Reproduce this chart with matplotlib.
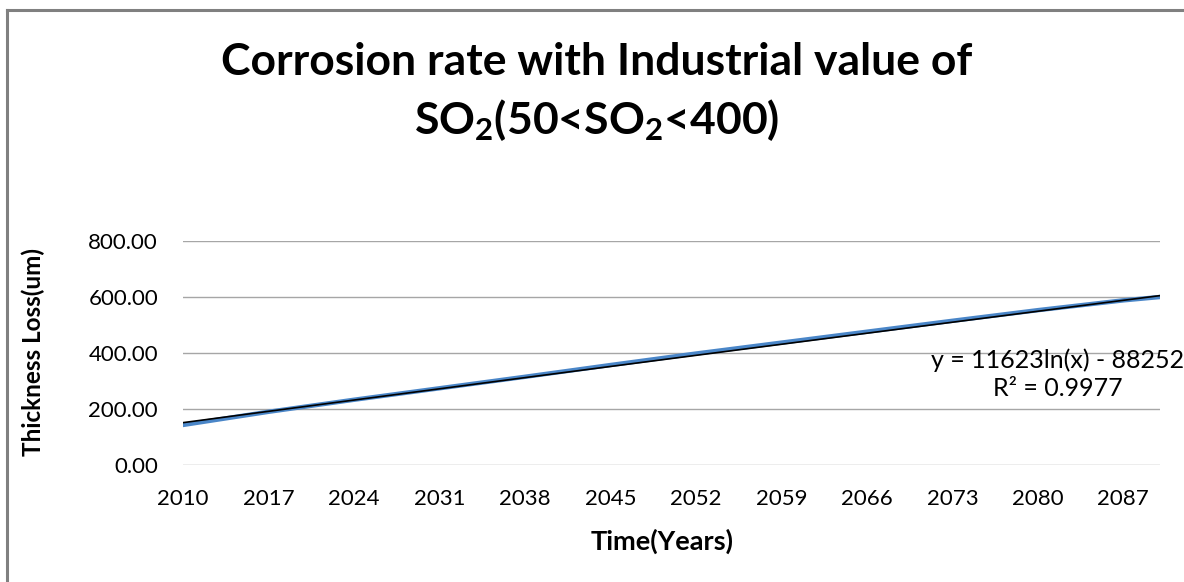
import numpy as np
import matplotlib
matplotlib.use('Agg')
import matplotlib.pyplot as plt
from matplotlib.lines import Line2D

plt.rcParams['font.family'] = ['Lato', 'DejaVu Sans']
plt.rcParams['mathtext.fontset'] = 'custom'
plt.rcParams['mathtext.rm'] = 'Lato'
plt.rcParams['mathtext.bf'] = 'Lato:bold'

# Data
years = list(range(2010, 2091))
tick_years = [2010, 2017, 2024, 2031, 2038, 2045, 2052, 2059, 2066, 2073, 2080, 2087, 2090]
thickness = [143, 190, 233, 274, 315, 357, 398, 437, 476, 515, 553, 588, 600]
y_ticks = [0, 200, 400, 600, 800]

# Trendline as stated on the chart: y = 11623 ln(x) - 88252
coef_a = 11623
coef_b = -88252

title_1 = 'Corrosion rate with Industrial value of'
title_2 = 'SO$\\mathbf{_2}$(50<SO$\\mathbf{_2}$<400)'

fig = plt.figure(figsize=(11.84, 5.82), dpi=100)
ax = fig.add_axes([183 / 1184, 1 - 465 / 582, (1160 - 183) / 1184, (465 - 241) / 582])

idx = [years.index(y) for y in tick_years]
ax.plot(idx, thickness, color='#4a86c8', lw=3.2, solid_capstyle='round', zorder=3)

xs = np.arange(len(years))
trend = coef_a * np.log(np.array(years, dtype=float)) + coef_b
ax.plot(xs, trend, color='black', lw=1.2, zorder=4)

ax.set_xlim(0, len(years) - 1)
ax.set_ylim(0, 800)
ax.set_yticks(y_ticks)
ax.set_yticklabels([f'{v:.2f}' for v in y_ticks])
ax.set_xticks(xs[::7])
ax.set_xticklabels([str(y) for y in years[::7]])
ax.tick_params(length=0, labelsize=16)
ax.tick_params(axis='x', pad=17)
ax.tick_params(axis='y', pad=18)
ax.grid(axis='y', color='#a6a6a6', lw=1)
ax.set_axisbelow(True)
for s in ax.spines.values():
    s.set_visible(False)

fig.text(662 / 1184, 1 - 541 / 582, 'Time(Years)', fontsize=19.5, fontweight='bold',
         ha='center', va='center')
fig.text(33 / 1184, 1 - 352 / 582, 'Thickness Loss(um)', rotation=90, fontsize=17.5,
         fontweight='bold', ha='center', va='center')

fig.text(597 / 1184, 1 - 62 / 582, title_1, ha='center', va='center', fontsize=32,
         fontweight='bold')
fig.text(597 / 1184, 1 - 120 / 582, title_2, ha='center', va='center', fontsize=32,
         fontweight='bold')

fig.text(1058 / 1184, 1 - 360 / 582, 'y = 11623ln(x) - 88252', ha='center', va='center', fontsize=18)
fig.text(1058 / 1184, 1 - 388 / 582, 'R² = 0.9977', ha='center', va='center', fontsize=18)

# Chart frame (top and left edges visible)
fig.add_artist(Line2D([7 / 1184, 7 / 1184], [0, 1 - 10 / 582], transform=fig.transFigure,
                      color='#808080', lw=2.2))
fig.add_artist(Line2D([7 / 1184, 1], [1 - 10 / 582, 1 - 10 / 582], transform=fig.transFigure,
                      color='#808080', lw=2.2))

fig.savefig('out.png', dpi=100)
